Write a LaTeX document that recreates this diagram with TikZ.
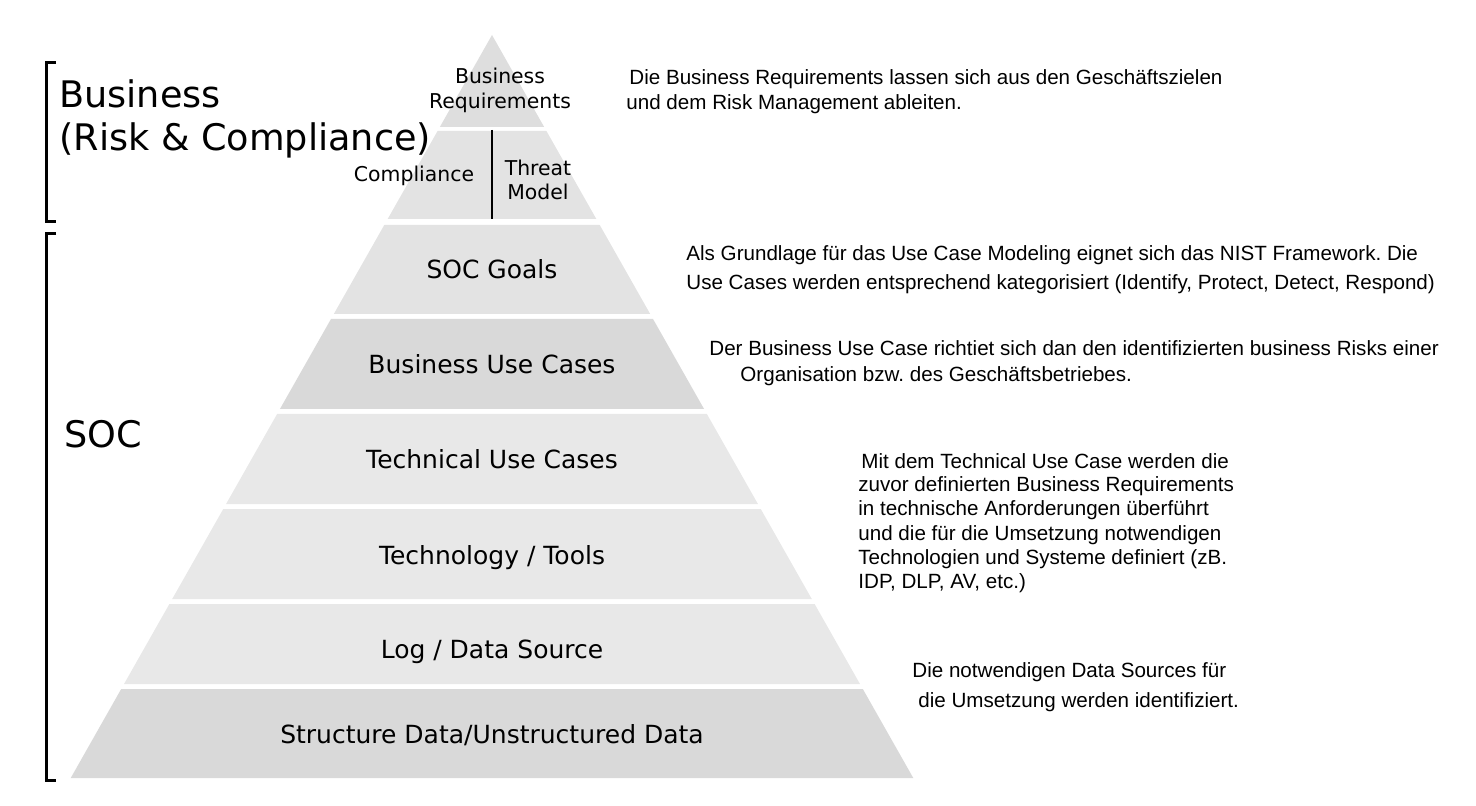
\documentclass[tikz,border=0pt]{standalone}
\usepackage{fontspec}
\setmainfont{DejaVu Sans}
\newfontfamily\notefont{Liberation Sans}
\usetikzlibrary{calc}
\definecolor{layTop}{HTML}{DEDEDE}
\definecolor{layMid}{HTML}{E3E3E3}
\definecolor{layDark}{HTML}{D9D9D9}
\definecolor{layLight}{HTML}{E8E8E8}
\newcommand\tierslope{0.567}
\tikzset{tier/.style={font=\fontsize{12.5}{15}\selectfont,anchor=base,inner sep=0pt},
small/.style={font=\fontsize{10.2}{12.5}\selectfont,align=center,anchor=base,inner sep=0pt},
big/.style={font=\fontsize{18.3}{21.5}\selectfont,align=left,anchor=base west,inner sep=0pt},
note/.style={font=\notefont\fontsize{10.3}{13}\selectfont,align=left,anchor=base west,inner sep=0pt},
bracket/.style={line width=1.5pt,line join=miter}}
\frenchspacing

\begin{document}
\begin{tikzpicture}[x=.5pt,y=-.5pt]
\useasboundingbox (0,0) rectangle (1476,806);
% pyramid
\fill[layTop] (492,35) -- ({492+\tierslope*92},127) -- ({492-\tierslope*92},127) -- cycle;
\foreach \t/\b/\c in {131/219/layMid,225/314/layMid,319/409/layDark,414/504/layLight,
 509/599/layLight,604/684/layLight,689/778/layDark}
 {\fill[\c] ({492-\tierslope*(\t-35)},\t) -- ({492+\tierslope*(\t-35)},\t)
  -- ({492+\tierslope*(\b-35)},\b) -- ({492-\tierslope*(\b-35)},\b) -- cycle;}
\draw[line width=1pt] (492,130) -- (492,219);
% tier labels (base = last line)
\node[small] (bizreq) at (500,109) {Business\\Requirements};
\node[small] (compl) at (414,182) {Compliance};
\node[small,font=\fontsize{10.2}{12}\selectfont] (threat) at (538,200) {Threat\\Model};
\node[tier] (goals) at (492,279) {SOC Goals};
\node[tier] (bizuc) at (492,374) {Business Use Cases};
\node[tier] (techuc) at (492,469) {Technical Use Cases};
\node[tier] (tools) at (492,564) {Technology / Tools};
\node[tier] (logsrc) at (492,658) {Log / Data Source};
\node[tier] (data) at (492,743) {Structure Data/Unstructured Data};
% left brackets
\draw[bracket] (56,63) -- (46,63) -- (46,222) -- (56,222);
\draw[bracket] (56,234) -- (46,234) -- (46,780) -- (56,780);
\node[big] (business) at (59,151) {Business\\(Risk \& Compliance)};
\node[big] (soc) at (64,448) {SOC};
% notes
\node[note,font=\notefont\fontsize{10.3}{12.5}\selectfont] (note1) at (626,110)
 {\hspace{1.5pt}Die Business Requirements lassen sich aus den Geschäftszielen\\
  und dem Risk Management ableiten.};
\node[note,font=\notefont\fontsize{10.3}{14.5}\selectfont] (note2) at (686,290)
 {Als Grundlage für das Use Case Modeling eignet sich das NIST Framework. Die\\
  Use Cases werden entsprechend kategorisiert (Identify, Protect, Detect, Respond)};
\node[note] (note3) at (709,382)
 {Der Business Use Case richtiet sich dan den identifizierten business Risks einer\\
  \hspace{15.5pt}Organisation bzw. des Geschäftsbetriebes.};
\node[note,font=\notefont\fontsize{10.3}{12}\selectfont] (note4) at (858,588)
 {\hspace{1.5pt}Mit dem Technical Use Case werden die\\
  zuvor definierten Business Requirements\\
  in technische Anforderungen überführt\\
  und die für die Umsetzung notwendigen\\
  Technologien und Systeme definiert (zB.\\
  IDP, DLP, AV, etc.)};
\node[note,font=\notefont\fontsize{10.3}{15}\selectfont] (note5) at (912,707)
 {Die notwendigen Data Sources für\\
  \hspace{3pt}die Umsetzung werden identifiziert.};
\end{tikzpicture}
\end{document}
